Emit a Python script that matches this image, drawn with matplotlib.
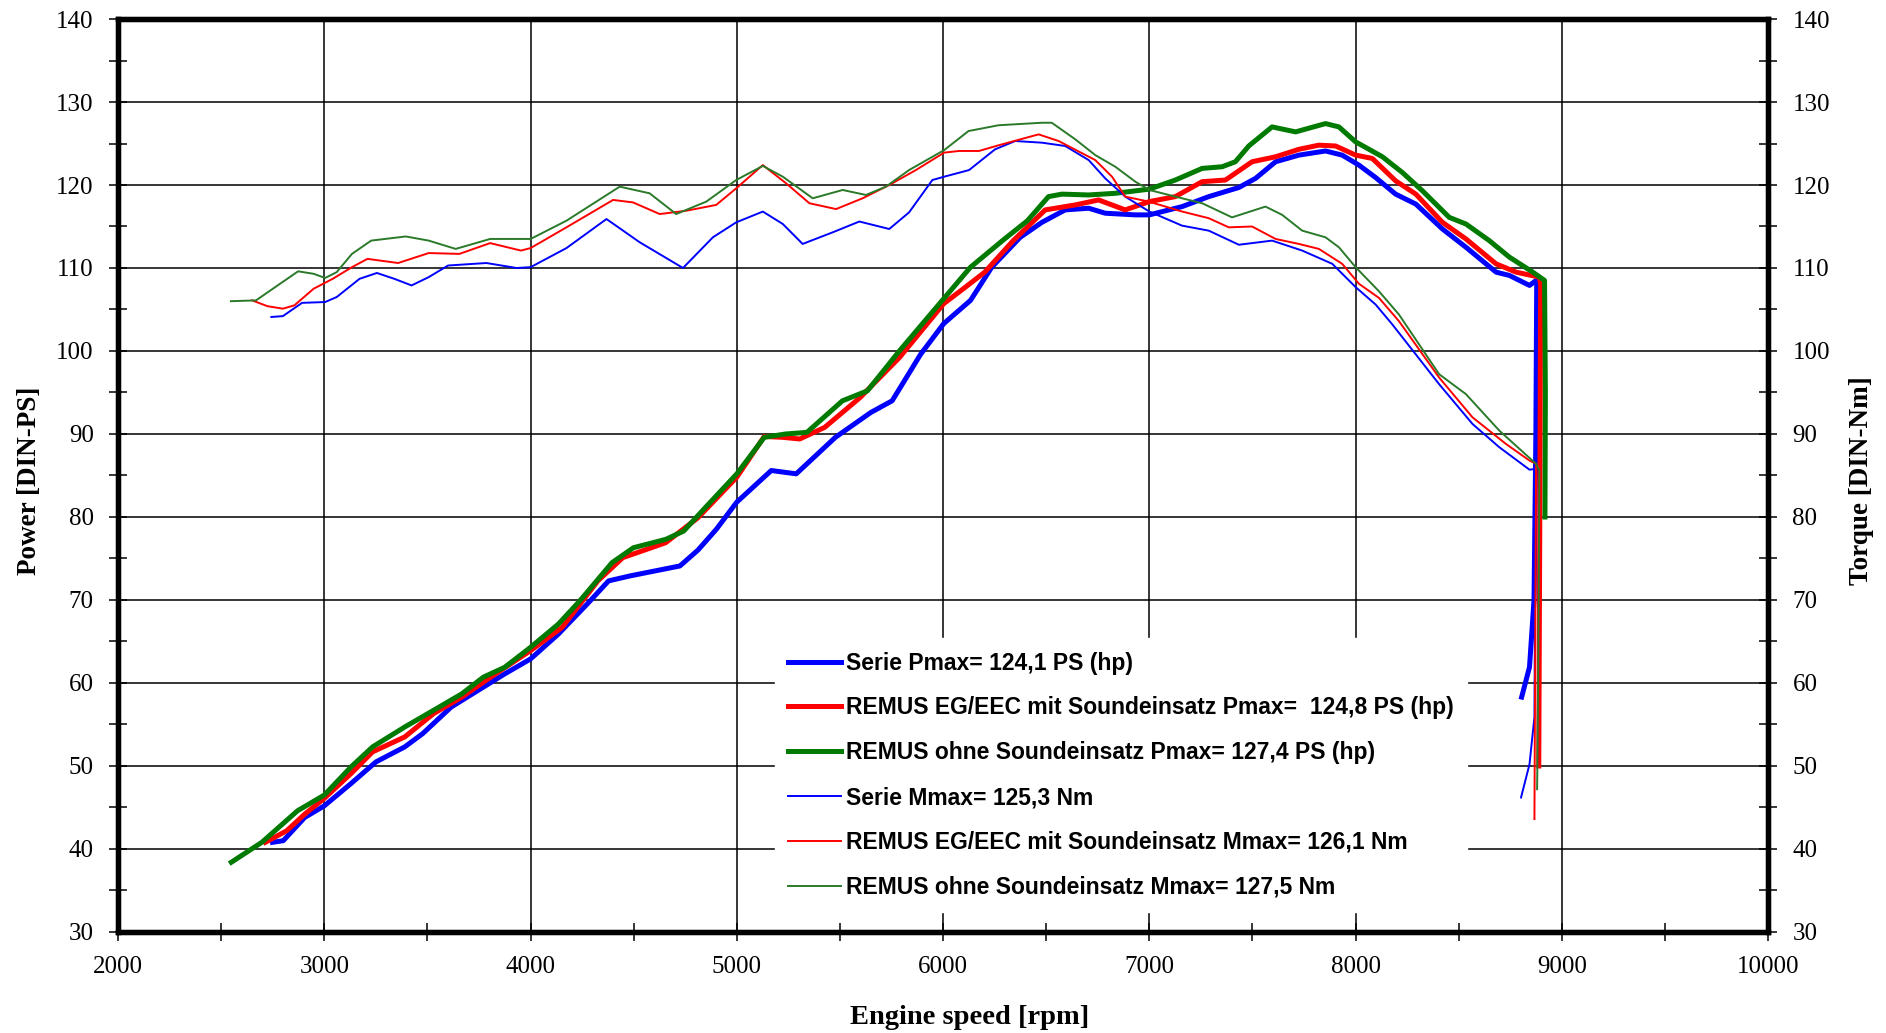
import matplotlib.pyplot as plt
from matplotlib.ticker import MultipleLocator

# Power curves [DIN-PS]
rpm_p_serie = [2749, 2801, 2905, 3000, 3130, 3251, 3390, 3477, 3615, 3771, 3875, 4000, 4135, 4274, 4378,
               4482, 4603, 4724, 4811, 4900, 5000, 5167, 5288, 5478, 5650, 5753, 5891, 6003, 6133, 6236,
               6374, 6479, 6592, 6706, 6786, 6932, 7000, 7159, 7288, 7434, 7515, 7612, 7725, 7854, 7935,
               8016, 8097, 8194, 8292, 8421, 8535, 8681, 8746, 8843, 8875, 8878, 8874, 8865, 8843, 8805]
p_serie = [40.8, 41.0, 43.8, 45.2, 47.9, 50.5, 52.3, 53.9, 57.1, 59.5, 61.1, 62.9, 65.9, 69.5, 72.3,
           72.9, 73.5, 74.1, 76.0, 78.5, 81.8, 85.6, 85.2, 89.6, 92.6, 94.0, 99.6, 103.3, 106.1, 110.1,
           113.7, 115.5, 117.0, 117.2, 116.6, 116.4, 116.4, 117.4, 118.6, 119.7, 120.8, 122.8, 123.6, 124.1, 123.6,
           122.4, 120.9, 118.9, 117.7, 114.7, 112.5, 109.5, 109.1, 107.9, 108.5, 108.0, 90.0, 70.0, 61.9, 58.3]

rpm_p_eg = [2714, 2818, 2905, 3000, 3130, 3234, 3390, 3529, 3667, 3806, 4000, 4153, 4326, 4447, 4655,
            4811, 5000, 5133, 5220, 5305, 5426, 5598, 5788, 6003, 6098, 6202, 6340, 6495, 6641, 6754,
            6883, 7000, 7126, 7256, 7369, 7498, 7612, 7725, 7822, 7903, 8000, 8081, 8194, 8292, 8421,
            8535, 8681, 8778, 8891, 8897, 8893, 8888]
p_eg = [40.8, 42.2, 44.2, 46.1, 49.1, 51.7, 53.5, 56.3, 58.3, 60.7, 63.9, 66.7, 72.3, 75.1, 76.9,
        79.9, 84.8, 89.7, 89.6, 89.4, 90.8, 94.4, 99.2, 105.7, 107.5, 109.5, 113.3, 117.0, 117.6, 118.2,
        117.0, 118.0, 118.6, 120.4, 120.6, 122.8, 123.4, 124.3, 124.8, 124.7, 123.6, 123.2, 120.5, 118.9, 115.5,
        113.5, 110.5, 109.5, 108.9, 108.0, 80.0, 50.0]

rpm_p_ohne = [2549, 2697, 2870, 3000, 3130, 3234, 3390, 3529, 3667, 3771, 3875, 4000, 4135, 4239, 4395,
              4499, 4655, 4742, 4846, 5000, 5133, 5236, 5340, 5512, 5633, 5788, 6003, 6133, 6288, 6409,
              6511, 6576, 6706, 6835, 7000, 7126, 7256, 7353, 7417, 7482, 7595, 7709, 7854, 7919, 8000,
              8130, 8227, 8324, 8454, 8535, 8648, 8746, 8859, 8916, 8920, 8918]
p_ohne = [38.4, 40.8, 44.6, 46.5, 49.9, 52.3, 54.7, 56.7, 58.7, 60.7, 61.9, 64.3, 67.1, 69.9, 74.5,
          76.3, 77.3, 78.3, 81.1, 85.2, 89.6, 90.0, 90.2, 94.0, 95.2, 100.0, 106.3, 110.1, 113.3, 115.7,
          118.6, 118.9, 118.8, 119.0, 119.5, 120.6, 122.0, 122.2, 122.8, 124.7, 127.0, 126.4, 127.4, 127.0, 125.2,
          123.4, 121.5, 119.3, 116.1, 115.3, 113.3, 111.3, 109.5, 108.5, 95.0, 80.0]

# Torque curves [DIN-Nm]
rpm_m_serie = [2743, 2799, 2892, 3004, 3060, 3171, 3255, 3339, 3423, 3506, 3600, 3786, 3932, 4000, 4174,
               4368, 4529, 4739, 4884, 4997, 5126, 5223, 5319, 5465, 5594, 5739, 5835, 5948, 6005, 6126,
               6252, 6350, 6479, 6592, 6706, 6786, 6883, 7000, 7159, 7288, 7434, 7595, 7741, 7887, 8000,
               8097, 8178, 8405, 8567, 8697, 8843, 8875, 8870, 8867, 8843, 8802]
m_serie = [104.1, 104.2, 105.8, 105.9, 106.5, 108.7, 109.4, 108.7, 107.9, 108.9, 110.3, 110.6, 110.0, 110.1, 112.4,
           115.9, 113.1, 110.0, 113.7, 115.5, 116.8, 115.3, 112.9, 114.3, 115.6, 114.7, 116.7, 120.6, 121.0, 121.8,
           124.3, 125.3, 125.1, 124.7, 123.0, 120.8, 118.6, 116.8, 115.1, 114.5, 112.8, 113.3, 112.1, 110.5, 107.7,
           105.6, 103.2, 96.0, 91.2, 88.4, 85.7, 85.8, 70.0, 55.9, 50.2, 46.2]

rpm_m_eg = [2650, 2724, 2799, 2855, 2948, 3041, 3134, 3209, 3358, 3506, 3655, 3804, 3953, 4000, 4174,
            4400, 4497, 4626, 4755, 4900, 4997, 5126, 5239, 5352, 5481, 5610, 5739, 5868, 6005, 6077,
            6174, 6271, 6463, 6560, 6738, 6819, 6883, 6997, 7159, 7288, 7385, 7498, 7612, 7725, 7822,
            7935, 8016, 8113, 8210, 8405, 8567, 8729, 8843, 8875, 8870, 8867]
m_eg = [106.1, 105.4, 105.1, 105.5, 107.5, 108.7, 110.1, 111.1, 110.6, 111.8, 111.7, 113.0, 112.1, 112.4, 114.9,
        118.2, 117.9, 116.5, 116.9, 117.6, 119.6, 122.4, 120.2, 117.8, 117.1, 118.4, 120.0, 121.8, 123.9, 124.1,
        124.1, 124.8, 126.1, 125.3, 123.0, 121.0, 118.6, 118.0, 116.8, 116.0, 114.9, 115.0, 113.5, 112.9, 112.3,
        110.5, 108.1, 106.4, 103.6, 96.8, 92.0, 88.8, 86.8, 86.4, 60.0, 43.6]

rpm_m_ohne = [2547, 2669, 2762, 2873, 2948, 3004, 3060, 3134, 3227, 3395, 3506, 3637, 3804, 4000, 4174,
              4432, 4577, 4706, 4852, 4997, 5126, 5223, 5368, 5513, 5626, 5723, 5835, 6005, 6123, 6269,
              6479, 6527, 6641, 6738, 6835, 6932, 7000, 7126, 7256, 7401, 7563, 7644, 7741, 7854, 7919,
              8000, 8113, 8210, 8405, 8535, 8697, 8875, 8891, 8885, 8880]
m_ohne = [106.0, 106.1, 107.7, 109.6, 109.3, 108.8, 109.5, 111.7, 113.3, 113.8, 113.3, 112.3, 113.5, 113.5, 115.7,
          119.8, 119.0, 116.5, 118.0, 120.6, 122.3, 121.0, 118.4, 119.4, 118.8, 119.8, 121.8, 124.2, 126.5, 127.2,
          127.5, 127.5, 125.5, 123.6, 122.2, 120.4, 119.4, 118.6, 117.8, 116.1, 117.4, 116.4, 114.5, 113.7, 112.5,
          110.1, 107.2, 104.4, 97.2, 94.8, 90.4, 86.4, 85.6, 60.0, 47.2]

labels = ['Serie Pmax= 124,1 PS (hp)',
          'REMUS EG/EEC mit Soundeinsatz Pmax=  124,8 PS (hp)',
          'REMUS ohne Soundeinsatz Pmax= 127,4 PS (hp)',
          'Serie Mmax= 125,3 Nm',
          'REMUS EG/EEC mit Soundeinsatz Mmax= 126,1 Nm',
          'REMUS ohne Soundeinsatz Mmax= 127,5 Nm']

BLUE = '#0000ff'
RED = '#ff0000'
GREEN = '#007a00'
GREEN_T = '#2a7a2a'
serif = 'Liberation Serif'

fig = plt.figure(figsize=(18.86, 10.33), dpi=100)
ax = fig.add_axes([0.0626, 0.0978, 0.8749, 0.8838])

ax.plot(rpm_p_serie, p_serie, color=BLUE, lw=3.6, label=labels[0], zorder=5)
ax.plot(rpm_p_eg, p_eg, color=RED, lw=3.6, label=labels[1], zorder=5)
ax.plot(rpm_p_ohne, p_ohne, color=GREEN, lw=3.6, label=labels[2], zorder=5)
ax.plot(rpm_m_serie, m_serie, color=BLUE, lw=1.4, label=labels[3], zorder=5)
ax.plot(rpm_m_eg, m_eg, color=RED, lw=1.4, label=labels[4], zorder=5)
ax.plot(rpm_m_ohne, m_ohne, color=GREEN_T, lw=1.4, label=labels[5], zorder=5)

ax.set_xlim(2000, 10000)
ax.set_ylim(30, 140)
ax.xaxis.set_major_locator(MultipleLocator(1000))
ax.xaxis.set_minor_locator(MultipleLocator(500))
ax.yaxis.set_major_locator(MultipleLocator(10))
ax.yaxis.set_minor_locator(MultipleLocator(5))
ax.grid(True, which='major', color='black', lw=1.1, zorder=1)
ax.set_axisbelow(True)

for sp in ax.spines.values():
    sp.set_linewidth(3.8)
ax.tick_params(which='both', direction='inout', length=13, width=1.1, pad=11,
               labelsize=18, top=False)
for lab in ax.get_xticklabels() + ax.get_yticklabels():
    lab.set_fontfamily(serif)

ax2 = ax.twinx()
ax2.set_ylim(30, 140)
ax2.yaxis.set_major_locator(MultipleLocator(10))
ax2.yaxis.set_minor_locator(MultipleLocator(5))
ax2.tick_params(which='both', direction='inout', length=13, width=1.1, pad=11, labelsize=18)
for lab in ax2.get_yticklabels():
    lab.set_fontfamily(serif)
for sp in ax2.spines.values():
    sp.set_linewidth(3.8)

fig.text(970 / 1886, 1 - 1018 / 1033, 'Engine speed [rpm]', ha='center', va='center',
         fontsize=20.5, fontweight='bold', family=serif)
fig.text(30 / 1886, 1 - 481 / 1033, 'Power [DIN-PS]', ha='center', va='center', rotation=90,
         fontsize=19.5, fontweight='bold', family=serif)
fig.text(1862 / 1886, 1 - 481 / 1033, 'Torque [DIN-Nm]', ha='center', va='center', rotation=90,
         fontsize=19.5, fontweight='bold', family=serif)

leg = ax2.legend(*ax.get_legend_handles_labels(), loc='lower left', bbox_to_anchor=(0.391, 0.009),
                 frameon=True, fancybox=False, framealpha=1, edgecolor='white',
                 prop={'family': 'Liberation Sans', 'weight': 'bold', 'size': 16.5},
                 handlelength=2.3, handletextpad=0.2, labelspacing=0.95, borderpad=0.6)
leg.set_zorder(10)

plt.savefig('out.png', dpi=100)
